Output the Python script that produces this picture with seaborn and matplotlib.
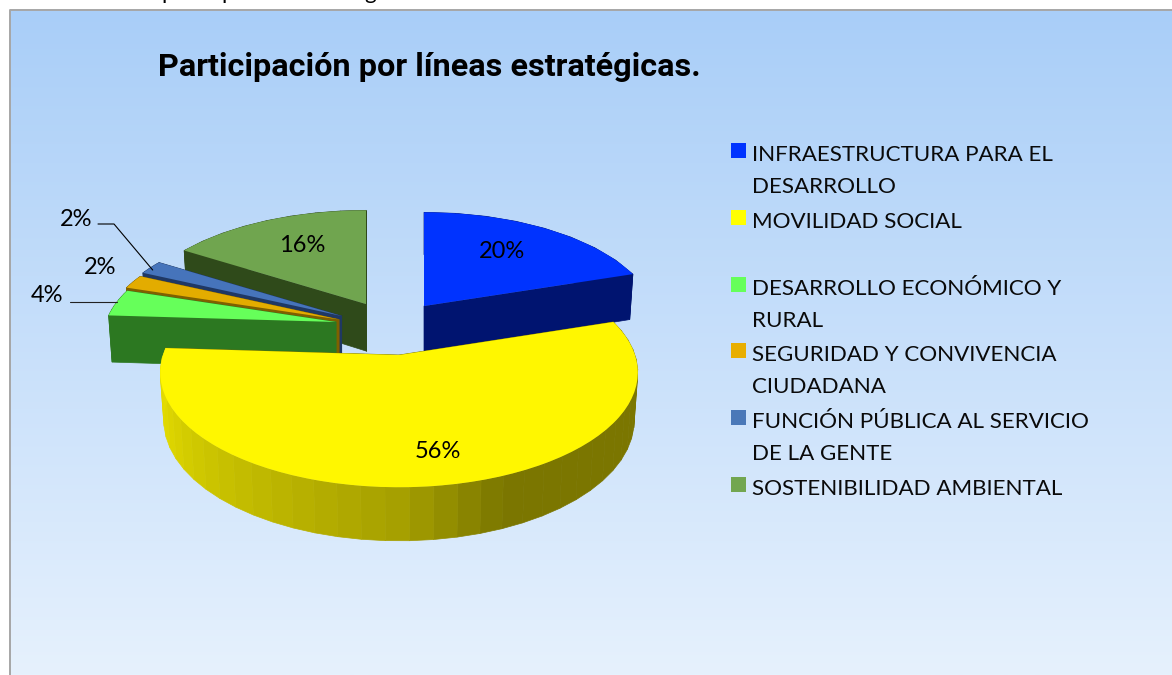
# -*- coding: utf-8 -*-
import numpy as np
import matplotlib
matplotlib.use('Agg')
import matplotlib.pyplot as plt
import matplotlib.transforms as mtransforms
import seaborn as sns
from matplotlib.patches import Polygon, Rectangle

# data
lineas = ['INFRAESTRUCTURA PARA EL\nDESARROLLO', 'MOVILIDAD SOCIAL',
          'DESARROLLO ECONÓMICO Y\nRURAL', 'SEGURIDAD Y CONVIVENCIA\nCIUDADANA',
          'FUNCIÓN PÚBLICA AL SERVICIO\nDE LA GENTE', 'SOSTENIBILIDAD AMBIENTAL']
valores = [20, 56, 4, 2, 2, 16]
titulo = 'Participación por líneas estratégicas.'

# colours
top_colors = ['#0033FF', '#FFF700', '#66FF5A', '#E3AC00', '#4674BB', '#70A54F']
wall_colors = ['#001470', '#7A7200', '#2C7821', '#7F6000', '#1F3864', '#2F4A1A']
legend_colors = ['#0033FF', '#FFFF00', '#66FF5A', '#E8AE00', '#4A78B8', '#72A650']

# layout of the slices in pixels
centers = [(424, 306), (399, 355), (336, 322), (339, 319.5), (341.7, 316), (366, 304)]
radii_x = [230, 236, 230, 234, 234, 233]
radii_y = [108, 112, 106, 108, 108, 108]
persp = 0.153
depth = 47
order = [5, 4, 3, 2, 0, 1]
label_pos = [(502, 251), (438, 451), (47, 296), (100, 267), (76, 219), (302, 245)]
legend_rows = [143, 210, 277, 343, 410, 477]


class Tilt(mtransforms.Transform):
    input_dims = 2
    output_dims = 2
    has_inverse = False

    def __init__(self, center, rx, ry, k=persp):
        super().__init__()
        self.center, self.rx, self.ry, self.k = center, rx, ry, k

    def transform_non_affine(self, values):
        values = np.asarray(values, dtype=float)
        w = 1 + self.k * values[:, 1]
        return np.column_stack([self.center[0] + self.rx * values[:, 0] / w,
                                self.center[1] - self.ry * values[:, 1] / w])


def rim(angles, center, rx, ry):
    rad = np.radians(angles)
    return Tilt(center, rx, ry).transform_non_affine(np.column_stack([np.sin(rad), np.cos(rad)]))


sns.set_theme(style='white')
plt.rcParams['font.family'] = ['Lato', 'DejaVu Sans']

fig = plt.figure(figsize=(11.72, 6.75), dpi=100, facecolor='white')
ax = fig.add_axes([0, 0, 1, 1])

wedges, _ = ax.pie(valores, colors=sns.color_palette(top_colors), startangle=90, counterclock=False,
                   wedgeprops={'linewidth': 0, 'edgecolor': 'none'})
ax.set_aspect('auto')
ax.set_xlim(0, 1172)
ax.set_ylim(675, 0)
ax.set_axis_off()

# background gradient + frame
grad = np.linspace(0, 1, 256)[:, None, None] * (np.array([230, 241, 253]) - np.array([169, 206, 248])) + np.array([169, 206, 248])
ax.imshow(grad / 255, extent=(10, 1172, 675, 10), aspect='auto', zorder=0)
ax.plot([10, 10, 1172], [675, 10, 10], color='#A6A6A6', lw=1.4, zorder=1)

edges = np.cumsum([0] + valores) / sum(valores) * 360
for z, i in enumerate(order):
    t0, t1 = edges[i], edges[i + 1]
    c, rx, ry = centers[i], radii_x[i], radii_y[i]
    c_low = (c[0], c[1] + depth)
    rx_low, ry_low = rx * 0.985, ry * 1.05
    zz = 2 + 2 * z
    # cut faces
    for t in (t0, t1):
        a = rim([t], c, rx, ry)[0]
        b = rim([t], c_low, rx_low, ry_low)[0]
        ax.add_patch(Polygon([c, a, b, c_low], closed=True, fc=wall_colors[i], ec=wall_colors[i], lw=0.5, zorder=zz))
    # outer rim
    n = 40 if valores[i] > 30 else 8
    ang = np.linspace(t0, t1, n + 1)
    up = rim(ang, c, rx, ry)
    low = rim(ang, c_low, rx_low, ry_low)
    for j in range(n):
        col = wall_colors[i]
        if i == 1:
            # shaded side of the big slice, lighter to the left
            m = (ang[j] + ang[j + 1]) / 2
            g = np.interp(m, [158, 180, 250, 273.6], [122, 165, 222, 228])
            col = (min(g * 1.0 / 255 + 0.004, 1), g * 0.97 / 255, 0)
        ax.add_patch(Polygon([up[j], up[j + 1], low[j + 1], low[j]], closed=True, fc=col, ec=col, lw=0.5, zorder=zz))
    wedges[i].set_transform(Tilt(c, rx, ry) + ax.transData)
    wedges[i].set_zorder(zz + 1)

# percentage labels
for v, (x, y) in zip(valores, label_pos):
    ax.text(x, y, f'{v}%', fontsize=17, color='black', ha='center', va='center', zorder=30)
ax.plot([98, 114, 152.7], [224, 224, 270], color='black', lw=0.8, zorder=30)
ax.plot([70, 117], [301.7, 301.7], color='#222222', lw=0.8, zorder=30)

# title
ax.text(158, 76, titulo, fontsize=23.3, fontweight='bold', ha='left', va='baseline', color='black',
        family=['Roboto', 'Liberation Sans'], zorder=30)

# legend
for lab, col, y in zip(lineas, legend_colors, legend_rows):
    ax.add_patch(Rectangle((731, y), 15, 15, fc=col, ec='none', zorder=30))
    for n, line in enumerate(lab.split('\n')):
        ax.text(752, y + 18 + n * 32, line, fontsize=16.15, ha='left', va='baseline', color='#0A0A0A', zorder=30)

# cut off line of text above the chart
for x, letter in [(161, 'p'), (221, 'p'), (364, 'g')]:
    ax.text(x, -1, letter, fontsize=16, color='black', ha='left', va='baseline', clip_on=True, zorder=30)

fig.savefig('out.png', dpi=100)
